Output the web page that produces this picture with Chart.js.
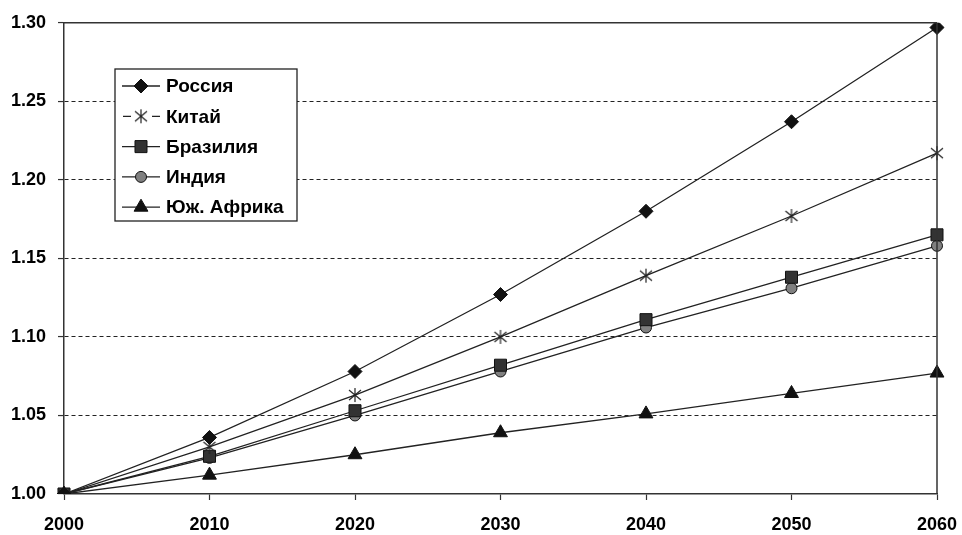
<!DOCTYPE html>
<html>
<head>
<meta charset="utf-8">
<script src="https://cdn.jsdelivr.net/npm/chart.js@4/dist/chart.umd.min.js"></script>
<style>
  html, body { margin: 0; padding: 0; background: #fff; }
  #wrap { width: 962px; height: 535px; position: relative; }
</style>
</head>
<body>
<div id="wrap"><canvas id="chart"></canvas></div>
<script>
// data
const years = ["2000", "2010", "2020", "2030", "2040", "2050", "2060"];
const russia = [1.000, 1.036, 1.078, 1.127, 1.180, 1.237, 1.297];
const china = [1.000, 1.030, 1.063, 1.100, 1.139, 1.177, 1.217];
const brazil = [1.000, 1.024, 1.053, 1.082, 1.111, 1.138, 1.165];
const india = [1.000, 1.023, 1.050, 1.078, 1.106, 1.131, 1.158];
const safrica = [1.000, 1.012, 1.025, 1.039, 1.051, 1.064, 1.077];
const seriesNames = ["Россия", "Китай", "Бразилия", "Индия", "Юж. Африка"];

const font = "'Liberation Sans', Arial, sans-serif";

// six-spoke asterisk marker like the original
function asterisk() {
  const cv = document.createElement("canvas");
  cv.width = 16; cv.height = 16;
  const c = cv.getContext("2d");
  c.strokeStyle = "#222";
  c.lineWidth = 1.2;
  c.beginPath();
  c.moveTo(2, 3); c.lineTo(14, 13);
  c.moveTo(14, 3); c.lineTo(2, 13);
  c.moveTo(8, 1); c.lineTo(8, 15);
  c.stroke();
  return cv;
}
const starMark = asterisk();

function ds(label, data, style, fill, radius) {
  return {
    label: label,
    data: data,
    borderColor: "#222",
    borderWidth: 1.3,
    pointStyle: style,
    pointRadius: radius,
    pointBackgroundColor: fill,
    pointBorderColor: "#111",
    pointBorderWidth: 1,
    tension: 0
  };
}

// legend box inside plot + solid frame
const frameLegend = {
  id: "frameLegend",
  afterDraw(chart) {
    const c = chart.ctx, a = chart.chartArea;
    c.save();
    c.strokeStyle = "#333";
    c.lineWidth = 1.5;
    c.beginPath();
    c.moveTo(a.left, a.top); c.lineTo(a.right, a.top);
    c.moveTo(a.right, a.top); c.lineTo(a.right, a.bottom);
    c.stroke();

    const bx = 115, by = 69, bw = 182, bh = 152;
    c.fillStyle = "#fff";
    c.fillRect(bx, by, bw, bh);
    c.strokeStyle = "#222";
    c.lineWidth = 1.3;
    c.strokeRect(bx, by, bw, bh);
    c.font = "bold 19px " + font;
    c.textBaseline = "middle";
    chart.data.datasets.forEach((d, i) => {
      const y = 86 + i * 30.3;
      c.strokeStyle = "#222";
      c.lineWidth = 1.3;
      c.beginPath();
      if (d.pointStyle === starMark) {
        c.moveTo(123, y); c.lineTo(131, y);
        c.moveTo(152, y); c.lineTo(160, y);
      } else {
        c.moveTo(122, y); c.lineTo(160, y);
      }
      c.stroke();
      c.save();
      c.fillStyle = d.pointBackgroundColor;
      c.strokeStyle = d.pointBorderColor;
      c.lineWidth = 1;
      Chart.helpers.drawPoint(c, {
        pointStyle: d.pointStyle, radius: d.pointRadius, rotation: 0, borderWidth: 1
      }, 141, y);
      c.restore();
      c.fillStyle = "#000";
      c.fillText(d.label, 166, y + 1);
    });
    c.restore();
  }
};

new Chart(document.getElementById("chart"), {
  type: "line",
  data: {
    labels: years,
    datasets: [
      ds(seriesNames[0], russia, "rectRot", "#111", 7),
      ds(seriesNames[1], china, starMark, "#fff", 8),
      ds(seriesNames[2], brazil, "rect", "#333", 8.5),
      ds(seriesNames[3], india, "circle", "#808080", 5.5),
      ds(seriesNames[4], safrica, "triangle", "#111", 8)
    ]
  },
  options: {
    responsive: true,
    maintainAspectRatio: false,
    animation: false,
    layout: { padding: { top: 22, right: 25, left: 0, bottom: 0 } },
    plugins: { legend: { display: false }, tooltip: { enabled: false } },
    scales: {
      x: {
        offset: false,
        afterFit(s) { s.height = 41; s.paddingRight = 0; },
        grid: {
          display: true,
          drawOnChartArea: false,
          drawTicks: true,
          tickLength: 6,
          tickColor: "#333",
          tickWidth: 1.2
        },
        border: { color: "#333", width: 1.5 },
        ticks: {
          color: "#000",
          font: { family: font, size: 18, weight: "bold" },
          padding: 14,
          maxRotation: 0
        }
      },
      y: {
        min: 1.0,
        max: 1.3,
        afterFit(s) { s.width = 64; },
        grid: {
          color: (ctx) => (ctx.tick && (ctx.tick.value <= 1.0001 || ctx.tick.value >= 1.2999)) ? "rgba(0,0,0,0)" : "#222",
          lineWidth: 1.1,
          drawTicks: true,
          tickLength: 6,
          tickColor: "#333",
          tickWidth: 1.2,
          tickBorderDash: []
        },
        border: { color: "#333", width: 1.5, dash: [4, 3] },
        ticks: {
          stepSize: 0.05,
          color: "#000",
          font: { family: font, size: 18, weight: "bold" },
          padding: 12,
          callback: (v) => Number(v).toFixed(2)
        }
      }
    }
  },
  plugins: [frameLegend]
});
</script>
</body>
</html>
